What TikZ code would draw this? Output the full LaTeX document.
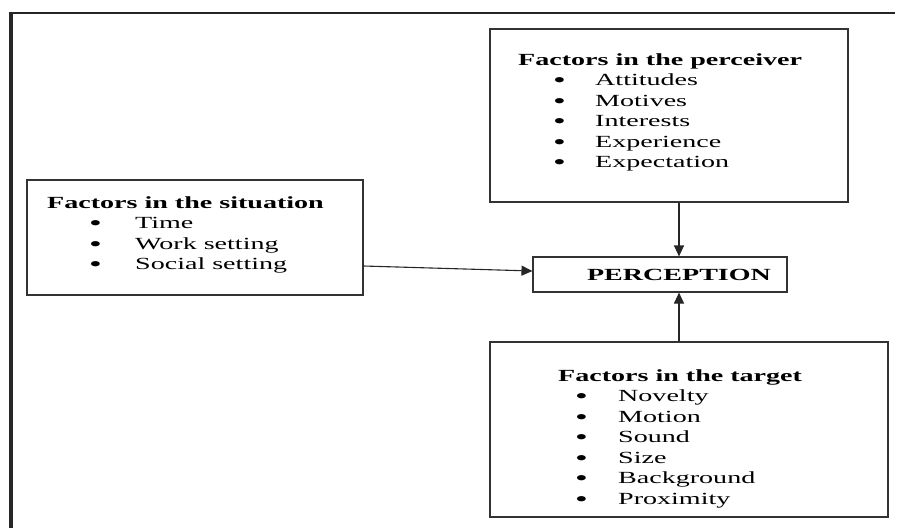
\documentclass[tikz,border=0pt]{standalone}
\usepackage{fontspec}
\setmainfont[FakeStretch=1.65]{Liberation Serif}
\usetikzlibrary{arrows.meta}
\tikzstyle{every node}=[font=\fontsize{17}{20.5}\selectfont,inner sep=0pt]
\tikzstyle{factorbox}=[draw=black!80,line width=1.1pt]
\tikzstyle{factorlist}=[anchor=base west]
\tikzstyle{arrow}=[draw=black!85,line width=1.1pt,-{Triangle[length=11pt,width=10pt]}]
\newcommand{\fitem}[3]{\hspace*{#1}\makebox[#2][l]{\smash{\raisebox{-2.2pt}{\scalebox{1.3}{\textbullet}}}}#3}

\begin{document}
\begin{tikzpicture}[x=1pt,y=-1pt]
    \useasboundingbox (0,0) rectangle (897,528);
    % frame of the page
    \draw[line width=2pt,black!85] (9,13) -- (895,13);
    \draw[line width=4pt,black!85] (10.5,12) -- (10.5,528);

    % boxes
    \node[factorbox,minimum width=358pt,minimum height=173pt] (perceiver) at (669,115.5) {};
    \node[factorbox,minimum width=336pt,minimum height=115pt] (situation) at (195,237.5) {};
    \node[factorbox,minimum width=398pt,minimum height=175pt] (target) at (689,429.5) {};
    \node[factorbox,minimum width=254pt,minimum height=35pt] (perception) at (660,274.5)
      {\hspace*{38pt}\textbf{PERCEPTION}};

    % texts in the boxes
    \node[factorlist] (perceivertext) at (518,65) {\begin{tabular}[t]{@{}l@{}}
      \textbf{Factors in the perceiver}\\
      \fitem{35pt}{42pt}{Attitudes}\\
      \fitem{35pt}{42pt}{Motives}\\
      \fitem{35pt}{42pt}{Interests}\\
      \fitem{35pt}{42pt}{Experience}\\
      \fitem{35pt}{42pt}{Expectation}
    \end{tabular}};
    \node[factorlist] (situationtext) at (47,208) {\begin{tabular}[t]{@{}l@{}}
      \textbf{Factors in the situation}\\
      \fitem{42pt}{46pt}{Time}\\
      \fitem{42pt}{46pt}{Work setting}\\
      \fitem{42pt}{46pt}{Social setting}
    \end{tabular}};
    \node[factorlist] (targettext) at (558,381) {\begin{tabular}[t]{@{}l@{}}
      \textbf{Factors in the target}\\
      \fitem{17pt}{43pt}{Novelty}\\
      \fitem{17pt}{43pt}{Motion}\\
      \fitem{17pt}{43pt}{Sound}\\
      \fitem{17pt}{43pt}{Size}\\
      \fitem{17pt}{43pt}{Background}\\
      \fitem{17pt}{43pt}{Proximity}
    \end{tabular}};

    % arrows
    \draw[arrow] ([yshift=-28.5pt]situation.east) -- ([yshift=3.5pt]perception.west);
    \draw[arrow] ([xshift=10pt]perceiver.south) -- ([xshift=19pt]perception.north);
    \draw[arrow] ([xshift=-10pt]target.north) -- ([xshift=19pt]perception.south);
\end{tikzpicture}
\end{document}
